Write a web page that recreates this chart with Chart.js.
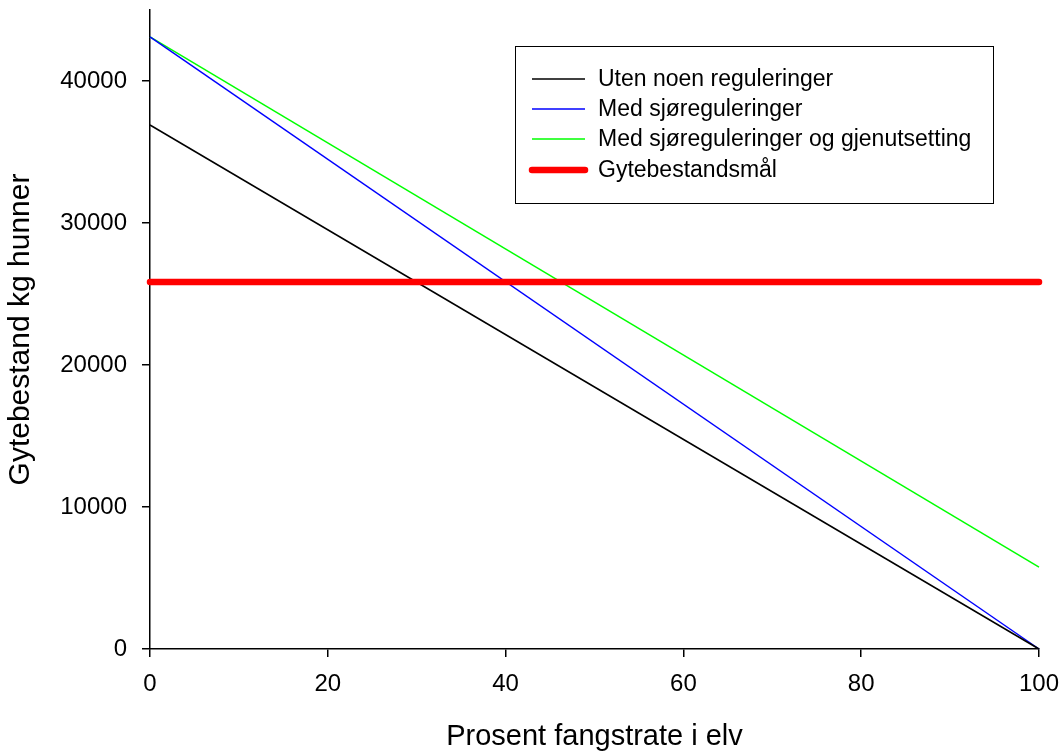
<!DOCTYPE html>
<html>
<head>
<meta charset="utf-8">
<script src="https://cdn.jsdelivr.net/npm/chart.js@4"></script>
<style>
  body { margin: 0; background: #ffffff; }
  canvas { display: block; }
</style>
</head>
<body>
<canvas id="gyteChart" width="1063" height="754"></canvas>
<script>
// Data
const fangstrate = [0, 100];
const utenReguleringer = [36900, 0];
const medSjoreguleringer = [43100, 0];
const medGjenutsetting = [43100, 5760];
const gytebestandsmal = [25850, 25850];

const xTicks = [0, 20, 40, 60, 80, 100];
const yTicks = [0, 10000, 20000, 30000, 40000];

const FONT = '"Liberation Sans", Arial, sans-serif';

function toPoints(values) {
    return fangstrate.map((x, i) => ({ x: x, y: values[i] }));
}

// Legend drawn in a box like the original
const boxLegend = {
    id: 'boxLegend',
    afterDraw(chart) {
        const ctx = chart.ctx;
        const left = 515, top = 46, right = 993, bottom = 203;
        ctx.save();
        ctx.strokeStyle = '#000000';
        ctx.lineWidth = 1;
        ctx.strokeRect(left + 0.5, top + 0.5, right - left, bottom - top);

        const rows = [79, 109, 139, 170];
        ctx.font = '23px ' + FONT;
        ctx.textBaseline = 'middle';
        ctx.textAlign = 'left';
        chart.data.datasets.forEach((ds, i) => {
            const y = rows[i];
            ctx.beginPath();
            ctx.strokeStyle = ds.borderColor;
            ctx.lineWidth = ds.borderWidth;
            ctx.lineCap = ds.borderWidth > 3 ? 'round' : 'butt';
            ctx.moveTo(532, y);
            ctx.lineTo(585, y);
            ctx.stroke();
            ctx.fillStyle = '#000000';
            ctx.fillText(ds.label, 598, y + 1);
        });
        ctx.restore();
    }
};

const ctx = document.getElementById('gyteChart').getContext('2d');

new Chart(ctx, {
    type: 'line',
    data: {
        datasets: [
            {
                label: 'Uten noen reguleringer',
                data: toPoints(utenReguleringer),
                borderColor: '#000000',
                borderWidth: 1.5,
                order: 1
            },
            {
                label: 'Med sjøreguleringer',
                data: toPoints(medSjoreguleringer),
                borderColor: '#0000ff',
                borderWidth: 1.5,
                order: 1
            },
            {
                label: 'Med sjøreguleringer og gjenutsetting',
                data: toPoints(medGjenutsetting),
                borderColor: '#00ff00',
                borderWidth: 1.5,
                order: 1
            },
            {
                label: 'Gytebestandsmål',
                data: toPoints(gytebestandsmal),
                borderColor: '#ff0000',
                borderWidth: 6.5,
                borderCapStyle: 'round',
                order: 0
            }
        ]
    },
    options: {
        responsive: false,
        animation: false,
        layout: {
            padding: { top: 10, right: 24, left: 0, bottom: 0 }
        },
        elements: {
            point: { radius: 0 },
            line: { tension: 0, fill: false }
        },
        datasets: {
            line: { clip: false }
        },
        plugins: {
            legend: { display: false },
            tooltip: { enabled: false }
        },
        scales: {
            x: {
                type: 'linear',
                min: 0,
                max: 100,
                afterFit(scale) {
                    scale.height = 105;
                    scale.paddingLeft = 0;
                    scale.paddingRight = 0;
                },
                afterBuildTicks(scale) {
                    scale.ticks = xTicks.map(v => ({ value: v }));
                },
                border: { display: true, color: '#000000', width: 1.5 },
                grid: {
                    drawOnChartArea: false,
                    drawTicks: true,
                    tickLength: 8,
                    color: '#000000',
                    lineWidth: 1.5
                },
                ticks: {
                    color: '#000000',
                    padding: 13,
                    maxRotation: 0,
                    font: { family: FONT, size: 24 },
                    callback: v => String(v)
                },
                title: {
                    display: true,
                    text: 'Prosent fangstrate i elv',
                    color: '#000000',
                    padding: { top: 0, bottom: 0 },
                    font: { family: FONT, size: 29 }
                }
            },
            y: {
                type: 'linear',
                min: 0,
                max: 45000,
                afterFit(scale) {
                    scale.width = 150;
                    scale.paddingTop = 0;
                    scale.paddingBottom = 0;
                },
                afterBuildTicks(scale) {
                    scale.ticks = yTicks.map(v => ({ value: v }));
                },
                border: { display: true, color: '#000000', width: 1.5 },
                grid: {
                    drawOnChartArea: false,
                    drawTicks: true,
                    tickLength: 8,
                    color: '#000000',
                    lineWidth: 1.5
                },
                ticks: {
                    color: '#000000',
                    padding: 15,
                    font: { family: FONT, size: 24 },
                    callback: v => String(v)
                },
                title: {
                    display: true,
                    text: 'Gytebestand kg hunner',
                    color: '#000000',
                    padding: { top: 3, bottom: 0 },
                    font: { family: FONT, size: 30 }
                }
            }
        }
    },
    plugins: [boxLegend]
});
</script>
</body>
</html>
